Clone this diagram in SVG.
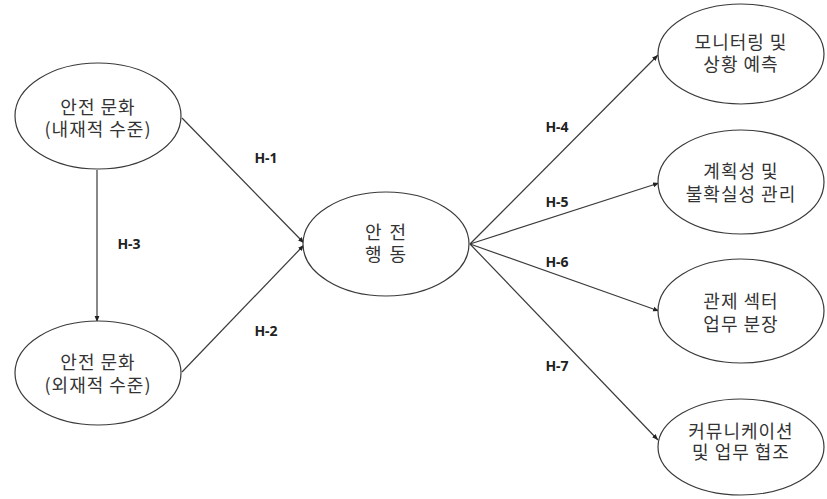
<svg xmlns="http://www.w3.org/2000/svg" width="827" height="499" viewBox="0 0 827 499">
<style>
.node ellipse{fill:#fff;stroke:#3a3a3a;stroke-width:1.2}
.node text{font-family:"Noto Sans CJK KR","Noto Sans",sans-serif;font-size:18px;letter-spacing:1px;fill:#333;text-anchor:middle}
.edge line{stroke:#3a3a3a;stroke-width:1.2;marker-end:url(#arr)}
.lbl{font-family:"Noto Sans","Open Sans",sans-serif;font-size:14px;font-weight:bold;fill:#222;text-anchor:middle}
</style>
<defs>
<marker id="arr" viewBox="0 0 10 10" refX="10" refY="5" markerWidth="6" markerHeight="6" markerUnits="userSpaceOnUse" orient="auto">
<path d="M0,1 L10,5 L0,9 z" fill="#222"/>
</marker>
</defs>
<rect width="827" height="499" fill="#fff"/>
<g id="connectors" class="edge">
<line x1="97" y1="170" x2="97" y2="322"/>
<line x1="182" y1="118" x2="304" y2="243"/>
<line x1="182" y1="372" x2="304" y2="245"/>
<line x1="470" y1="244" x2="658" y2="55"/>
<line x1="470" y1="244" x2="659" y2="183"/>
<line x1="470" y1="244" x2="659" y2="311"/>
<line x1="470" y1="244" x2="658" y2="440"/>
</g>
<g id="labels">
<text class="lbl" x="266" y="163">H-1</text>
<text class="lbl" x="266" y="336">H-2</text>
<text class="lbl" x="129" y="249">H-3</text>
<text class="lbl" x="557" y="132">H-4</text>
<text class="lbl" x="557" y="207">H-5</text>
<text class="lbl" x="557" y="267">H-6</text>
<text class="lbl" x="557" y="371">H-7</text>
</g>
<g id="n1" class="node">
<ellipse cx="98" cy="116" rx="83" ry="53"/>
<text x="98" y="114">안전 문화<tspan x="98" dy="22">(내재적 수준)</tspan></text>
</g>
<g id="n2" class="node">
<ellipse cx="98" cy="373" rx="83" ry="52"/>
<text x="98" y="369">안전 문화<tspan x="98" dy="23">(외재적 수준)</tspan></text>
</g>
<g id="n3" class="node">
<ellipse cx="386" cy="244" rx="83" ry="52"/>
<text x="386" y="239" word-spacing="2">안 전<tspan x="386" dy="22">행 동</tspan></text>
</g>
<g id="n4" class="node">
<ellipse cx="741" cy="54" rx="83" ry="50"/>
<text x="741" y="49">모니터링 및<tspan x="741" dy="22">상황 예측</tspan></text>
</g>
<g id="n5" class="node">
<ellipse cx="741" cy="182" rx="83" ry="52"/>
<text x="741" y="178">계획성 및<tspan x="741" dy="23">불확실성 관리</tspan></text>
</g>
<g id="n6" class="node">
<ellipse cx="741" cy="311" rx="83" ry="52"/>
<text x="741" y="308">관제 섹터<tspan x="741" dy="23">업무 분장</tspan></text>
</g>
<g id="n7" class="node">
<ellipse cx="741" cy="447" rx="83" ry="48"/>
<text x="741" y="438">커뮤니케이션<tspan x="741" dy="21">및 업무 협조</tspan></text>
</g>
</svg>
